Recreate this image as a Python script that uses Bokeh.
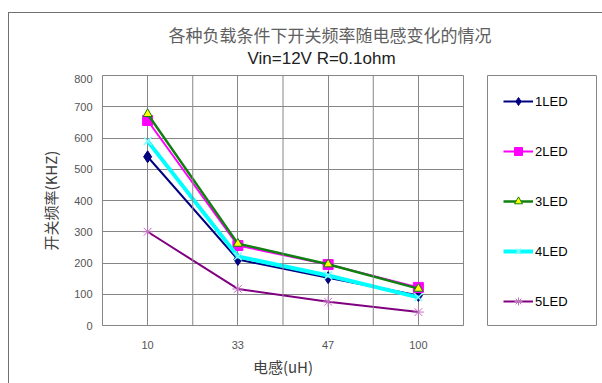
from bokeh.plotting import figure
from bokeh.layouts import row, column
from bokeh.models import Legend, LegendItem, Span, Title, FixedTicker, FactorRange, Range1d, InlineStyleSheet
from bokeh.embed import file_html
from bokeh.resources import INLINE

# ---- data ----
inductance = ["10", "33", "47", "100"]
led1 = [540, 211, 153, 96]
led2 = [656, 256, 195, 122]
led3 = [677, 262, 196, 118]
led4 = [590, 221, 160, 90]
led5 = [300, 117, 76, 43]
series_names = ["1LED", "2LED", "3LED", "4LED", "5LED"]
y_ticks = [0, 100, 200, 300, 400, 500, 600, 700, 800]

title_cn = "各种负载条件下开关频率随电感变化的情况"
subtitle = "Vin=12V  R=0.1ohm"
x_label = "电感(uH)"
y_label = "开关频率(KHZ)"

GRID = "#868686"
TXT = "#555555"

series = [
    dict(y=led1, color="#000080", lw=2, marker="diamond", size=12, fill="#000080", mline="#000080", mlw=1),
    dict(y=led2, color="#ff00ff", lw=2, marker="square", size=10, fill="#ff00ff", mline="#ff00ff", mlw=1),
    dict(y=led3, color="#108010", lw=2.5, marker="triangle", size=9, fill="#ffff00", mline="#108010", mlw=1),
    dict(y=led4, color="#00ffff", lw=4, marker="x", size=11, fill=None, mline="#80ffff", mlw=1.5),
    dict(y=led5, color="#800080", lw=2, marker="asterisk", size=11, fill=None, mline="#c070c0", mlw=1),
]


def draw(fig, visible=True):
    out = []
    for s in series:
        l = fig.line(inductance, s["y"], line_color=s["color"], line_width=s["lw"], visible=visible)
        m = fig.scatter(inductance, s["y"], marker=s["marker"], size=s["size"],
                        fill_color=s["fill"], line_color=s["mline"], line_width=s["mlw"], visible=visible)
        out.append([l, m])
    return out


def blank(fig):
    fig.axis.visible = False
    fig.grid.visible = False
    fig.outline_line_color = None
    fig.background_fill_color = "white"
    fig.border_fill_color = "white"


TOP_H = 74

# ---- title strip ----
t = figure(width=602, height=TOP_H, x_range=FactorRange(*inductance), y_range=Range1d(0, 800),
           output_backend="svg", toolbar_location=None, title=None,
           min_border_left=0, min_border_right=0, min_border_top=67, min_border_bottom=0)
blank(t)
t.add_layout(Title(text=subtitle, align="left", offset=247, text_font="Liberation Sans",
                   text_font_size="17px", text_font_style="normal", text_color="#202020",
                   standoff=0), "above")
t.add_layout(Title(text=title_cn, align="left", offset=168, text_font="Noto Sans CJK SC",
                   text_font_size="17px", text_font_style="normal", text_color="#606060",
                   standoff=0), "above")

# ---- main chart ----
p = figure(width=464, height=383 - TOP_H, x_range=FactorRange(*inductance, range_padding=0),
           y_range=Range1d(0, 800), output_backend="svg", toolbar_location=None,
           min_border_left=102, min_border_right=1, min_border_top=1, min_border_bottom=57,
           title=None)
p.background_fill_color = "white"
p.border_fill_color = "white"
p.outline_line_color = GRID
p.outline_line_width = 1

p.ygrid.ticker = FixedTicker(ticks=y_ticks)
p.ygrid.grid_line_color = GRID
p.xgrid.grid_line_color = GRID
for b in range(1, len(inductance)):
    p.add_layout(Span(location=b, dimension="height", line_color=GRID, line_width=1))

p.yaxis.ticker = FixedTicker(ticks=y_ticks)
for ax in (p.xaxis[0], p.yaxis[0]):
    ax.axis_line_color = GRID
    ax.major_tick_out = 0
    ax.major_tick_in = 0
    ax.minor_tick_out = 0
    ax.minor_tick_in = 0
    ax.major_label_text_font = "Liberation Sans"
    ax.major_label_text_font_size = "11px"
    ax.major_label_text_color = TXT
    ax.axis_label_text_font = "Noto Sans CJK SC"
    ax.axis_label_text_font_style = "normal"
    ax.axis_label_text_font_size = "15px"
    ax.axis_label_text_color = "#404040"
p.yaxis.axis_label = y_label
p.xaxis.axis_label = x_label
p.yaxis.major_label_standoff = 10
p.yaxis.axis_label_standoff = 10
p.xaxis.major_label_standoff = 15
p.xaxis.axis_label_standoff = 4

draw(p)

# ---- legend panel: its frame outline is the legend box ----
q = figure(width=138, height=383 - TOP_H, x_range=p.x_range, y_range=p.y_range,
           output_backend="svg", toolbar_location=None, title=None,
           min_border_left=23, min_border_right=6, min_border_top=0, min_border_bottom=58)
blank(q)
q.outline_line_color = GRID
q.outline_line_width = 1
pairs = draw(q, visible=False)
items = [LegendItem(label=n, renderers=pr) for n, pr in zip(series_names, pairs)]
legend = Legend(items=items, location="top_left", border_line_color=GRID, border_line_alpha=0,
                label_text_font="Liberation Sans", label_text_font_size="13px",
                label_text_color="#000000", glyph_width=30, glyph_height=20, label_height=20,
                label_width=42, spacing=30, padding=16, margin=0, label_standoff=2,
                background_fill_alpha=0)
q.add_layout(legend, "center")

border_css = InlineStyleSheet(css="""
:host { position: relative; }
:host::after {
  content: ''; position: absolute; left: 8px; top: 12px; width: 700px; height: 500px;
  border-left: 1px solid #707070; border-top: 1px solid #707070;
  pointer-events: none; z-index: 10;
}
""")
layout = column(t, row(p, q, spacing=0), spacing=0, stylesheets=[border_css])

open("out.html", "w").write(file_html(layout, INLINE))
